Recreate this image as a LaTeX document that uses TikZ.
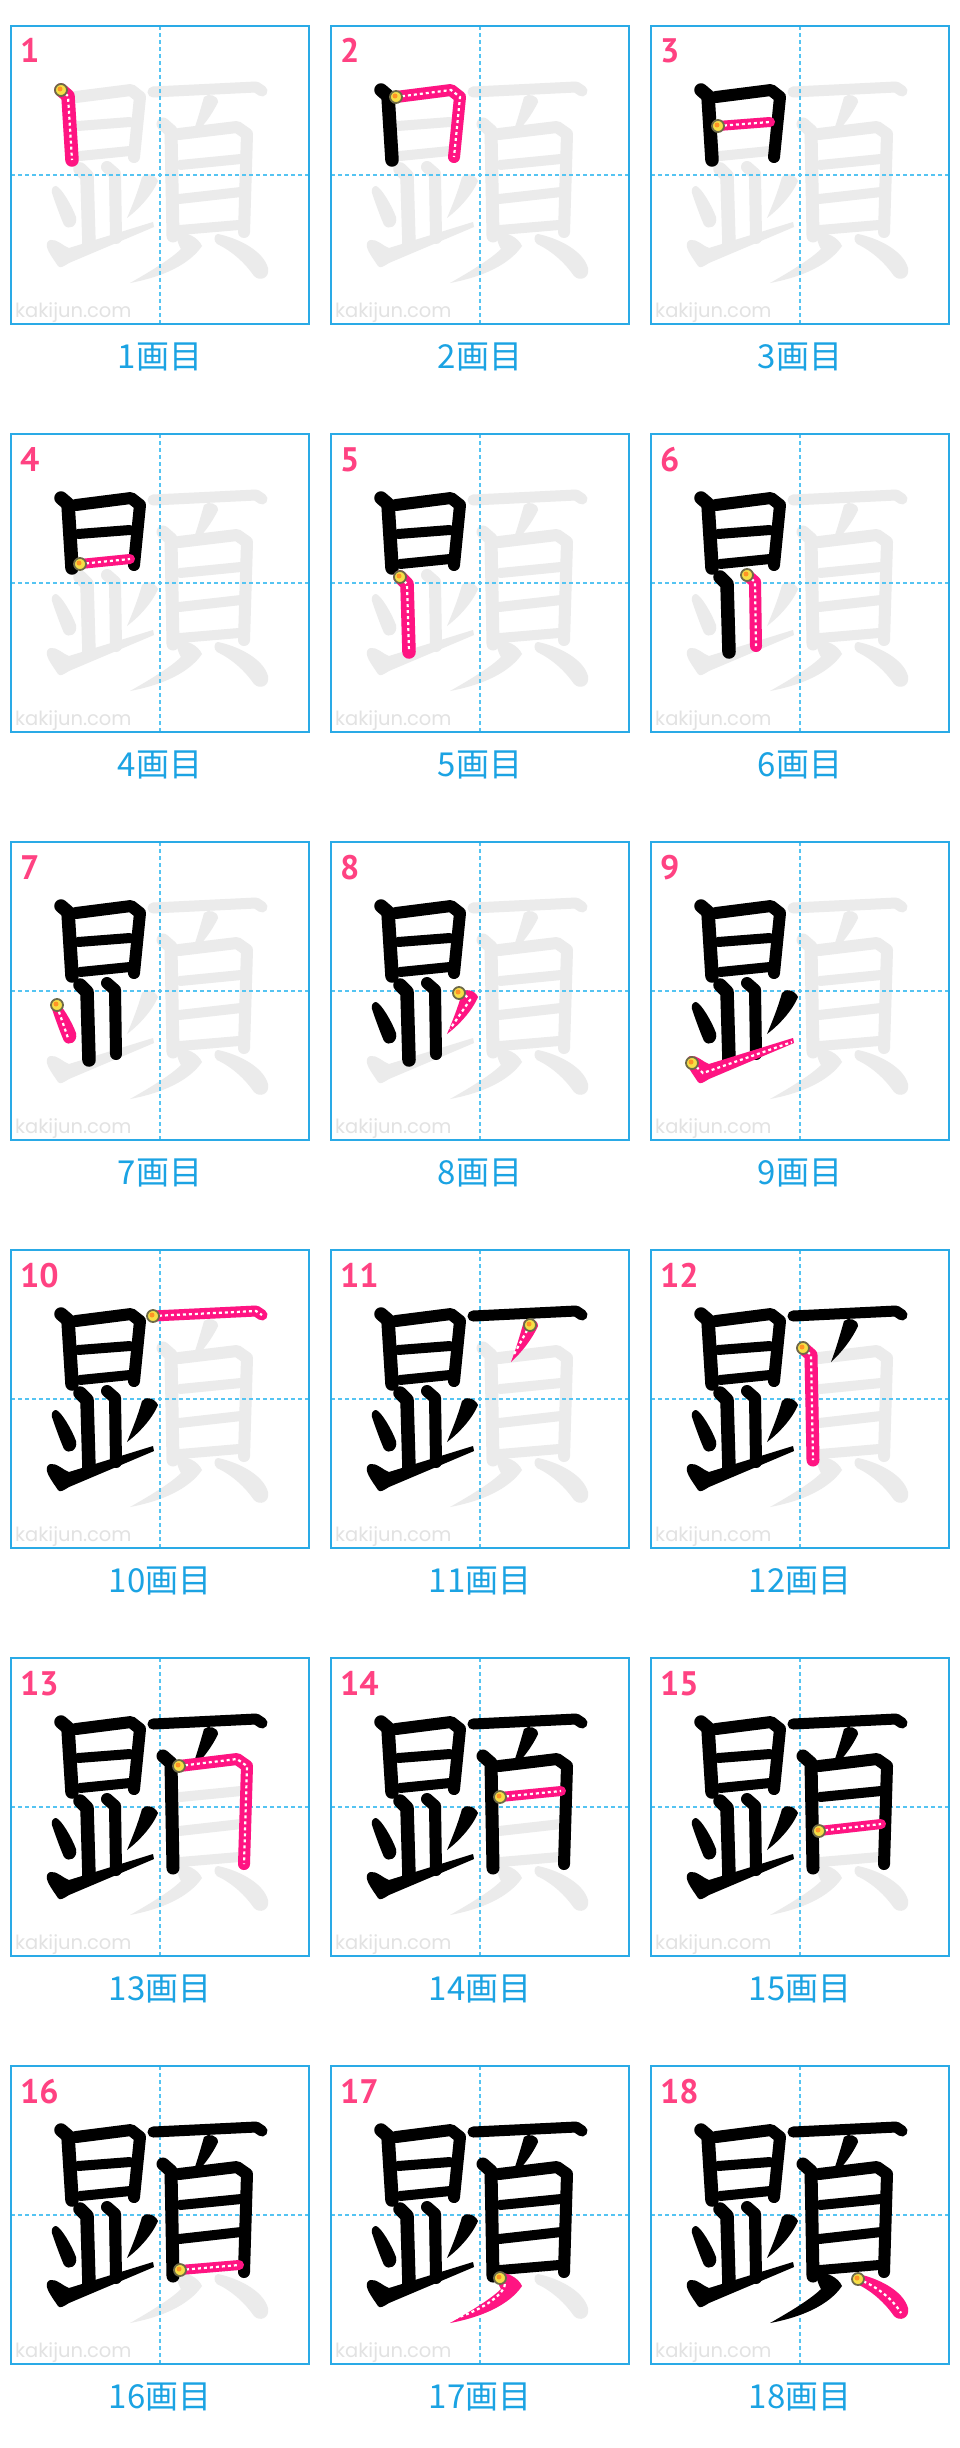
\documentclass[tikz,border=0pt]{standalone}
\usepackage{fontspec}
\newfontfamily\jpfont{Noto Sans CJK JP}
\newfontfamily\numfont{PT Sans}
\newfontfamily\wmfont{Poppins}
\definecolor{kborder}{HTML}{2AAAE6}
\definecolor{kguide}{HTML}{55C4F2}
\definecolor{klabel}{HTML}{1BA3E3}
\definecolor{knum}{HTML}{FF4282}
\definecolor{kpink}{HTML}{FF1482}
\definecolor{kghost}{HTML}{EBEBEB}
\definecolor{kwater}{HTML}{E2E2E2}
\definecolor{kdotin}{HTML}{F6DF46}
\definecolor{kdotring}{HTML}{6E6A48}
% centre lines of the strokes of the kanji, in panel units (panel is 298 x 298)
\newcommand{\kanjicentres}{%
  {(50,64) -- (57,70) -- (61,134)},
  {(65,71) -- (120,64) -- (129,71) -- (123,131)},
  {(67,100) -- (119,96)},
  {(69,130) -- (119,125)},
  {(69,143) -- (76,150) -- (78,218)},
  {(96,141) -- (104,148) -- (105,212)},
  {(46,164) -- (57,196)},
  {(134,153) -- (139,158) -- (119,187)},
  {(41,221) -- (52,231) -- (141,200)},
  {(142,66) -- (245,61) -- (251,65)},
  {(199,75) -- (182,106)},
  {(152,98) -- (160,105) -- (162,210)},
  {(168,108) -- (226,101) -- (236,108) -- (233,206)},
  {(169,139) -- (230,133)},
  {(168,173) -- (230,166)},
  {(169,204) -- (228,199)},
  {(171,213) .. controls (182,220) and (160,241) .. (125,252)},
  {(207,213) .. controls (225,220) and (241,232) .. (250,247)}}
\newcommand{\kanjistarts}{(50,64),(65,71),(67,100),(69,130),(69,143),(96,141),
  (46,163),(128,151),(41,221),(142,66),(199,75),(152,98),(168,108),(169,139),
  (168,173),(169,204),(169,212),(207,213)}
% body of stroke #1 in colour #2, along centre line #3
\newcommand{\kanjibody}[3]{%
  \ifcase#1\relax
  \or \draw[kbrush,#2,line width=13.5pt] #3;
  \or \draw[kbrush,#2,line width=12pt] #3;
  \or \draw[kbrush,#2,line width=10pt] #3;
  \or \draw[kbrush,#2,line width=10pt] #3;
  \or \draw[kbrush,#2,line width=13.5pt] #3;
  \or \draw[kbrush,#2,line width=12pt] #3;
  \or % dot, thick below
    \fill[#2] (45,160) .. controls (50,161) and (61,180) .. (65,191)
      .. controls (67,200) and (58,205) .. (53,199)
      .. controls (49,190) and (44,176) .. (41,167)
      .. controls (40,163) and (42,160) .. (45,160) -- cycle;
  \or % short slash, thick above
    \fill[#2] (131,151) .. controls (134,146) and (144,148) .. (147,155)
      .. controls (141,169) and (128,183) .. (116,192)
      .. controls (122,178) and (127,165) .. (131,151) -- cycle;
  \or % rising stroke, heavy head
    \fill[#2] (40,214) .. controls (46,213) and (52,220) .. (58,222)
      -- (142,196) -- (143,201) -- (58,237)
      .. controls (53,240) and (49,243) .. (47,240)
      .. controls (43,234) and (37,226) .. (36,221)
      .. controls (35,217) and (37,214) .. (40,214) -- cycle;
  \or \draw[kbrush,#2,line width=11pt] #3;
  \or
    \fill[#2] (193,71) .. controls (197,67) and (207,69) .. (207,76)
      .. controls (201,89) and (191,102) .. (180,112)
      .. controls (185,99) and (189,85) .. (193,71) -- cycle;
  \or \draw[kbrush,#2,line width=13pt] #3;
  \or \draw[kbrush,#2,line width=12pt] #3;
  \or \draw[kbrush,#2,line width=10pt] #3;
  \or \draw[kbrush,#2,line width=10pt] #3;
  \or \draw[kbrush,#2,line width=10pt] #3;
  \or % left sweep
    \fill[#2] (168,207) .. controls (175,206) and (187,211) .. (191,220)
      .. controls (178,239) and (151,251) .. (119,257)
      .. controls (142,244) and (161,232) .. (170,223)
      .. controls (168,219) and (164,213) .. (168,207) -- cycle;
  \or % right sweep
    \fill[#2] (207,208) .. controls (226,212) and (252,224) .. (257,242)
      .. controls (259,252) and (249,256) .. (243,250)
      .. controls (234,237) and (221,225) .. (206,218)
      .. controls (202,215) and (203,208) .. (207,208) -- cycle;
  \fi}

\begin{document}
\begin{tikzpicture}[x=1pt,y=-1pt,
  kframe/.style={draw=kborder,line width=1.8pt},
  kguideline/.style={kguide,line width=1.5pt,dash pattern=on 4pt off 3pt},
  kbrush/.style={line width=11pt,line cap=round,line join=round},
  kdash/.style={white,line width=2.2pt,dash pattern=on 3pt off 3pt}]
  \useasboundingbox (0,0) rectangle (960,2448);
  \fill[white] (0,0) rectangle (960,2448);
  \foreach \n in {1,...,18}{
    \pgfmathtruncatemacro{\col}{mod(\n-1,3)}
    \pgfmathtruncatemacro{\row}{(\n-1)/3}
    \begin{scope}[shift={(11+320*\col,26+408*\row)}]
      % faint full character
      \foreach \p [count=\k] in \kanjicentres {\kanjibody{\k}{kghost}{\p}}
      \draw[kguideline] (149,0) -- (149,298);
      \draw[kguideline] (0,149) -- (298,149);
      \draw[kframe] (0,0) rectangle (298,298);
      \node[anchor=base west,inner sep=0,text=kwater,
        font=\wmfont\fontsize{19.5}{22}\selectfont] (wm\n) at (4,291) {kakijun.com};
      % strokes already written, then the current one
      \foreach \p [count=\k] in \kanjicentres {
        \ifnum\k<\n\relax \kanjibody{\k}{black}{\p}\fi
        \ifnum\k=\n\relax
          \kanjibody{\k}{kpink}{\p}
          \draw[kdash] \p;
        \fi}
      \foreach \s [count=\k] in \kanjistarts {
        \ifnum\k=\n\relax
          \fill[kdotin,draw=kdotring,line width=1.8pt] \s circle (6);
          \fill[orange!85,shift={(-1,-1)}] \s circle (2.5);
        \fi}
      \node[anchor=base west,inner sep=0,text=knum,
        font=\numfont\bfseries\fontsize{34}{40}\selectfont] (num\n) at (9,37) {\n};
      \node[text=klabel,font=\jpfont\fontsize{33}{38}\selectfont] (lab\n) at (149,331) {{\n}画目};
    \end{scope}
  }
\end{tikzpicture}
\end{document}
